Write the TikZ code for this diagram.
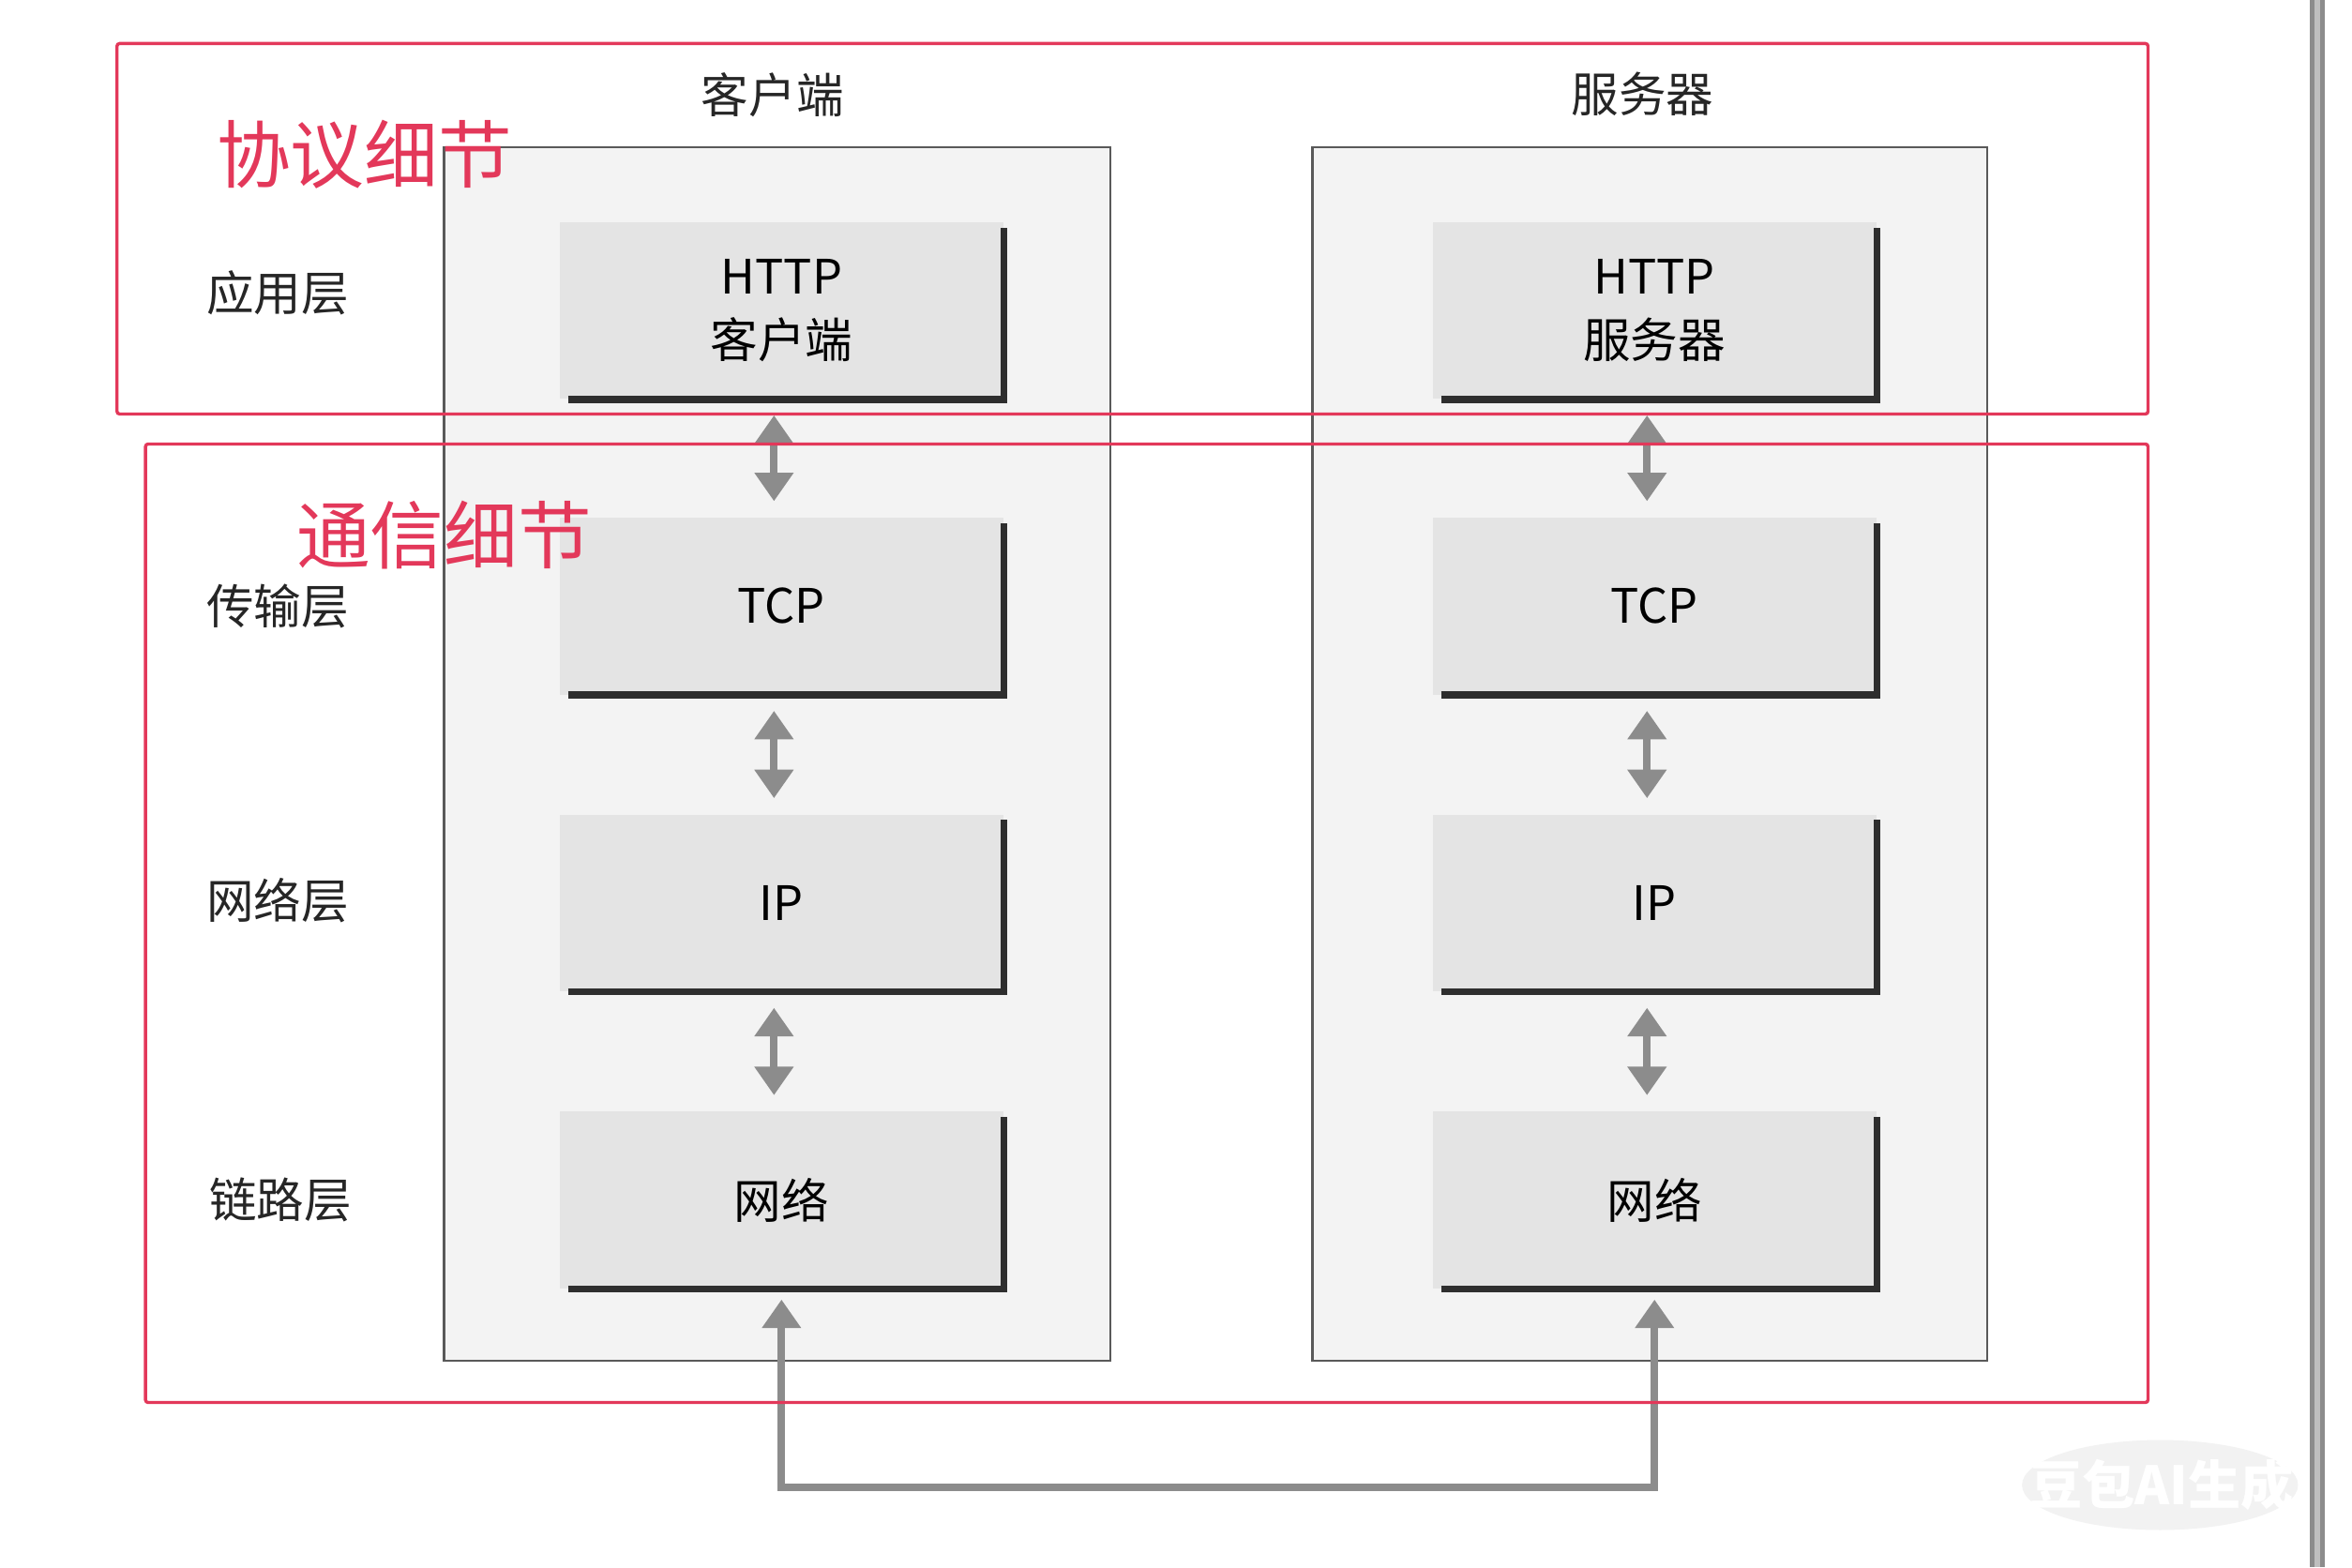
\documentclass[tikz,border=0pt]{standalone}
\usepackage{fontspec}
\setmainfont{Noto Sans CJK SC}
\usetikzlibrary{arrows.meta,calc}

\definecolor{markred}{HTML}{E3385A}
\definecolor{layerfill}{HTML}{E4E4E4}
\definecolor{panelfill}{HTML}{F3F3F3}
\definecolor{pipegray}{HTML}{8C8C8C}

\tikzset{
	panel/.style={draw=black!65, line width=0.8pt, fill=panelfill},
	layerbox/.style={fill=layerfill, minimum width=5.92cm, minimum height=2.36cm, inner sep=0pt, align=center, font=\fontsize{18}{24}\selectfont},
	edge/.style={line width=2.6pt, draw=black!82},
	sidelabel/.style={font=\fontsize{18}{22}\selectfont, text=black!85},
	redlabel/.style={font=\fontsize{28}{32}\selectfont, text=markred},
	detailbox/.style={draw=markred, line width=1.2pt, rounded corners=1pt},
	updown/.style={draw=pipegray, line width=2.8pt, {Triangle[length=0.38cm,width=0.5cm]}-{Triangle[length=0.38cm,width=0.5cm]}, shorten <=6pt, shorten >=6pt},
	pipe/.style={draw=pipegray, line width=2.8pt, {Triangle[length=0.38cm,width=0.5cm]}-{Triangle[length=0.38cm,width=0.5cm]}, shorten <=4pt, shorten >=4pt}
}

\begin{document}
\begin{tikzpicture}[x=0.02cm, y=-0.02cm]
	%%%%% START %%%%%
	\useasboundingbox (0,0) rectangle (1568,1045);
	\fill[white] (0,0) rectangle (1568,1045);
	
	% side panels
	\draw[panel] (296,98) rectangle (740,907);
	\draw[panel] (875,98) rectangle (1325,907);
	
	\node[sidelabel] (client) at (515,63) {客户端};
	\node[sidelabel] (server) at (1095,63) {服务器};
	
	% layer boxes
	\foreach \name/\y/\txt in {1/207/{HTTP\\客户端}, 2/404/TCP, 3/602/IP, 4/800/网络} {
		\node[layerbox] (c\name) at (521,\y) {\txt};
		\draw[edge] ($(c\name.south west)+(6,0)$) -- (c\name.south east) -- ($(c\name.north east)+(0,4)$);
	}
	\foreach \name/\y/\txt in {1/207/{HTTP\\服务器}, 2/404/TCP, 3/602/IP, 4/800/网络} {
		\node[layerbox] (s\name) at (1103,\y) {\txt};
		\draw[edge] ($(s\name.south west)+(6,0)$) -- (s\name.south east) -- ($(s\name.north east)+(0,4)$);
	}
	
	% up/down arrows
	\foreach \a/\b in {1/2, 2/3, 3/4} {
		\draw[updown] ([xshift=-0.1cm]c\a.south) -- ([xshift=-0.1cm]c\b.north);
		\draw[updown] ([xshift=-0.1cm]s\a.south) -- ([xshift=-0.1cm]s\b.north);
	}
	
	% wire between the two hosts
	\draw[pipe] (c4.south) -- ++(0,132) -| (s4.south);
	
	% layer names
	\node[sidelabel] (app) at (185,195) {应用层};
	\node[sidelabel] (trans) at (185,404) {传输层};
	\node[sidelabel] (net) at (185,600) {网络层};
	\node[sidelabel] (link) at (187,800) {链路层};
	
	% red marks
	\draw[detailbox] (78,29) rectangle (1432,276);
	\draw[detailbox] (97,296) rectangle (1432,935);
	\node[redlabel] (proto) at (243,103) {协议细节};
	\node[redlabel] (comm) at (296,357) {通信细节};
	
	% right edge and stamp
	\fill[black!45] (1540,0) rectangle (1550,1045);
	\fill[black!25] (1543,0) rectangle (1547,1045);
	\fill[black!5] (1440,990) ellipse (92 and 30);
	\node[font=\fontsize{20}{24}\selectfont\bfseries, text=white] (stamp) at (1441,990) {豆包AI生成};
	%%%%% END %%%%%
\end{tikzpicture}
\end{document}
